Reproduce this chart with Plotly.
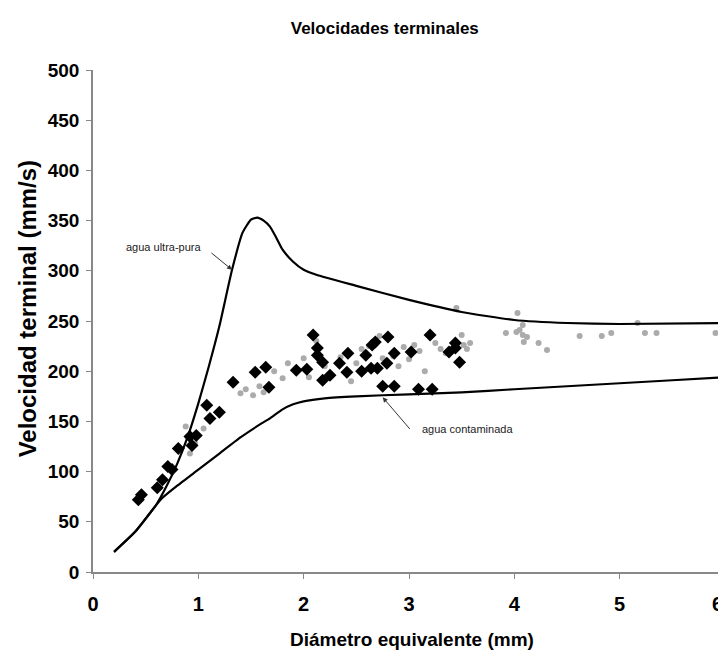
import plotly.graph_objects as go

# Curves (diameter mm, terminal velocity mm/s)
pure_x = [0.2, 0.4, 0.5, 0.6, 0.7, 0.8, 0.9, 1.0, 1.1, 1.2, 1.32, 1.42, 1.5, 1.56, 1.62, 1.68, 1.74, 1.8, 1.9, 2.0, 2.12, 2.5, 3.0, 3.5, 4.0, 4.5, 5.0, 6.0]
pure_y = [20, 40, 53, 67, 86, 108, 135, 168, 205, 245, 301, 338, 351, 353, 350, 344, 333, 321, 309, 301, 296, 285, 271, 259, 251, 248, 247, 248]

cont_x = [0.2, 0.4, 0.55, 0.65, 0.8, 1.0, 1.2, 1.4, 1.6, 1.68, 1.8, 1.9, 2.0, 2.2, 2.5, 3.0, 3.5, 4.0, 4.5, 5.0, 5.5, 6.0]
cont_y = [20, 40, 60, 73, 86, 102, 118, 134, 148, 153, 162, 167, 170, 173, 175, 177, 179, 182, 185, 188, 191, 194]

# Black diamonds
blk_x = [0.43, 0.46, 0.61, 0.66, 0.71, 0.75, 0.81, 0.92, 0.94, 0.98, 1.08, 1.11, 1.20, 1.33,
         1.54, 1.64, 1.67, 1.93, 2.03, 2.09, 2.13, 2.13, 2.18, 2.18, 2.25, 2.34, 2.42, 2.41,
         2.55, 2.59, 2.65, 2.68, 2.80, 2.64, 2.70, 2.79, 2.86, 2.75, 2.86, 3.02, 3.09, 3.22,
         3.20, 3.38, 3.44, 3.48, 3.44]
blk_y = [72, 77, 84, 92, 105, 102, 123, 135, 126, 136, 166, 153, 159, 189,
         199, 204, 184, 201, 202, 236, 223, 216, 209, 191, 196, 208, 218, 199,
         200, 216, 226, 229, 234, 203, 203, 208, 218, 185, 185, 219, 182, 182,
         236, 219, 228, 209, 223]

# Grey markers
gry_x = [0.88, 0.92, 0.97, 1.05, 1.40, 1.45, 1.52, 1.58, 1.62, 1.72, 1.80, 1.85, 2.00, 2.05,
         2.12, 2.20, 2.25, 2.35, 2.45, 2.50, 2.55, 2.62, 2.72, 2.75, 2.85, 2.90, 2.95, 3.00,
         3.05, 3.10, 3.15, 3.25, 3.30, 3.35, 3.52, 3.55, 3.58, 3.45, 3.50, 3.92, 4.02, 4.05,
         4.08, 4.12, 4.09, 4.23, 4.31, 4.62, 4.83, 4.92, 5.24, 5.35, 5.91, 4.03, 4.08, 5.17]
gry_y = [145, 118, 128, 143, 178, 182, 176, 185, 179, 200, 193, 208, 213, 194,
         230, 205, 196, 214, 190, 208, 222, 225, 235, 213, 215, 205, 224, 212,
         226, 220, 200, 228, 222, 218, 226, 222, 228, 263, 236, 238, 239, 241,
         236, 234, 229, 228, 221, 235, 235, 238, 238, 238, 238, 258, 246, 248]

x_ticks = [0, 1, 2, 3, 4, 5, 6]
y_ticks = [0, 50, 100, 150, 200, 250, 300, 350, 400, 450, 500]

FONT = "Liberation Sans Narrow, Arial Narrow, Liberation Sans, Arial, sans-serif"

fig = go.Figure()
fig.add_trace(go.Scatter(x=gry_x, y=gry_y, mode="markers",
                         marker=dict(symbol="circle", size=6, color="#ababab"),
                         showlegend=False, hoverinfo="skip"))
fig.add_trace(go.Scatter(x=blk_x, y=blk_y, mode="markers",
                         marker=dict(symbol="diamond", size=10, color="black"),
                         showlegend=False))
fig.add_trace(go.Scatter(x=pure_x, y=pure_y, mode="lines",
                         line=dict(color="black", width=2.2, shape="spline", smoothing=0.5),
                         showlegend=False))
fig.add_trace(go.Scatter(x=cont_x, y=cont_y, mode="lines",
                         line=dict(color="black", width=2.2, shape="spline", smoothing=0.5),
                         showlegend=False))

fig.add_annotation(x=1.32, y=301, ax=1.11, ay=319, axref="x", ayref="y", xref="x", yref="y",
                   text="", showarrow=True, arrowhead=2, arrowsize=1, arrowwidth=1, arrowcolor="#333")
fig.add_annotation(x=1.045, y=324, xref="x", yref="y", text="agua ultra-pura",
                   showarrow=False, xanchor="right", yanchor="middle",
                   font=dict(family=FONT, size=11, color="#222"))
fig.add_annotation(x=2.75, y=174, ax=3.02, ay=141, axref="x", ayref="y", xref="x", yref="y",
                   text="", showarrow=True, arrowhead=2, arrowsize=1, arrowwidth=1, arrowcolor="#333")
fig.add_annotation(x=3.105, y=142, xref="x", yref="y", text="agua contaminada",
                   showarrow=False, xanchor="left", yanchor="middle",
                   font=dict(family=FONT, size=11, color="#222"))

# last x tick label, right-aligned so it stays inside the window
fig.add_annotation(x=x_ticks[-1], y=-0.064, xref="x", yref="paper", text=f"<b>{x_ticks[-1]}</b>",
                   showarrow=False, xanchor="right", yanchor="middle",
                   font=dict(family=FONT, size=20, color="black"))

# Axis titles as paper annotations
fig.add_annotation(x=-0.103, y=0.525, xref="paper", yref="paper", text="<b>Velocidad terminal (mm/s)</b>",
                   textangle=-90, showarrow=False, xanchor="center", yanchor="middle",
                   font=dict(family=FONT, size=24, color="black"))
fig.add_annotation(x=0.505, y=-0.135, xref="paper", yref="paper", text="<b>Diámetro equivalente (mm)</b>",
                   showarrow=False, xanchor="center", yanchor="middle",
                   font=dict(family=FONT, size=19, color="black"))

# page body has an 8px margin; margins compensate so the plot lands where the reference has it
fig.update_layout(
    width=726, height=660,
    margin=dict(l=85, r=9, t=62, b=96),
    paper_bgcolor="white", plot_bgcolor="white",
    title=dict(text="<b>Velocidades terminales</b>", x=0.519, xanchor="center", y=0.97, yanchor="middle",
               font=dict(family=FONT, size=17, color="black")),
    font=dict(family=FONT, color="black"),
)
fig.update_xaxes(range=[0, 6], tickvals=x_ticks,
                 ticktext=[f"<b>{v}</b>" for v in x_ticks[:-1]] + [""],
                 showgrid=False, zeroline=False, showline=True, linecolor="#888", linewidth=1.5,
                 ticks="outside", ticklen=5, tickcolor="#888", tickfont=dict(size=20, family=FONT),
                 ticklabelstandoff=8, automargin=False)
fig.update_yaxes(range=[0, 500], tickvals=y_ticks, ticktext=[f"<b>{v}</b>" for v in y_ticks],
                 showgrid=False, zeroline=False, showline=True, linecolor="#888", linewidth=1.5,
                 ticks="outside", ticklen=5, tickcolor="#888", tickfont=dict(size=19, family=FONT),
                 ticklabelstandoff=3, automargin=False)

fig.write_html("out.html")
